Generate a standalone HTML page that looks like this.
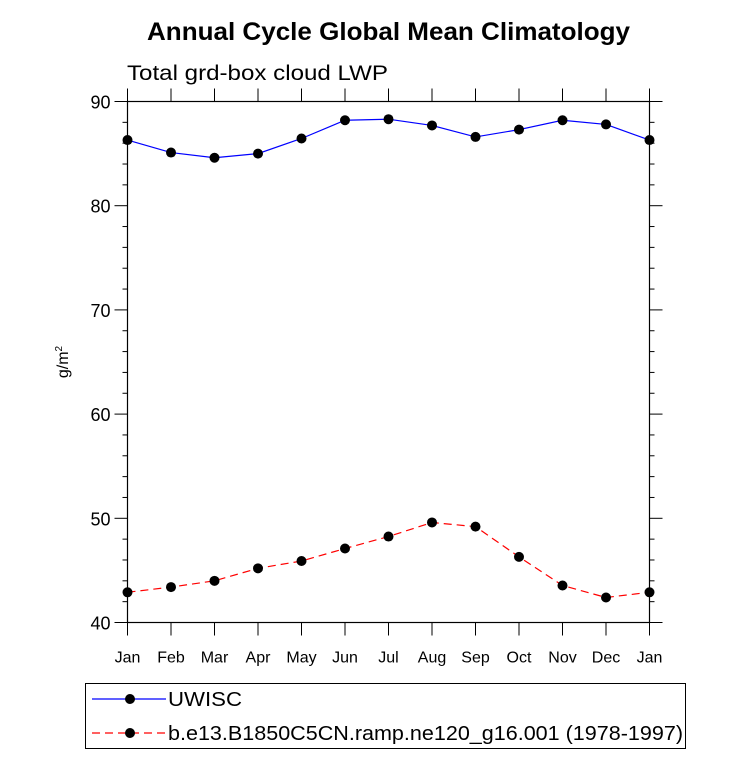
<!DOCTYPE html>
<html><head><meta charset="utf-8"><style>
body{margin:0;background:#fff;}
svg text{font-family:"Liberation Sans",sans-serif;}
</style></head><body>
<svg id="chart" width="733" height="757" xmlns="http://www.w3.org/2000/svg">
<text x="147" y="40" font-size="25" font-weight="bold" textLength="483" lengthAdjust="spacingAndGlyphs">Annual Cycle Global Mean Climatology</text>
<text x="127" y="80" font-size="21" textLength="261" lengthAdjust="spacingAndGlyphs">Total grd-box cloud LWP</text>
<text transform="translate(68,362) rotate(-90)" text-anchor="middle" font-size="16">g/m<tspan dy="-6" font-size="10">2</tspan></text>
<g id="axes"></g>
<g id="series"></g>
<g>
<rect x="85.5" y="683.5" width="600" height="65" fill="none" stroke="#000" stroke-width="1"/>
<g>
<line x1="92" y1="699" x2="166" y2="699" stroke="#00f" stroke-width="1.2"/>
<circle cx="130" cy="699" r="5" fill="#000"/>
<text x="168" y="706" font-size="20" textLength="74" lengthAdjust="spacingAndGlyphs">UWISC</text>
</g>
<g>
<line x1="92" y1="733" x2="166" y2="733" stroke="#f00" stroke-width="1.2" stroke-dasharray="8,5"/>
<circle cx="130" cy="733" r="5" fill="#000"/>
<text x="168" y="740" font-size="20" textLength="515" lengthAdjust="spacingAndGlyphs">b.e13.B1850C5CN.ramp.ne120_g16.001 (1978-1997)</text>
</g>
</g>
</svg>
<script>
const months = ["Jan","Feb","Mar","Apr","May","Jun","Jul","Aug","Sep","Oct","Nov","Dec","Jan"];
const uwisc = [86.3,85.1,84.6,85.0,86.45,88.2,88.3,87.7,86.6,87.3,88.2,87.8,86.3];
const model = [42.9,43.4,44.0,45.2,45.9,47.1,48.25,49.6,49.2,46.3,43.55,42.4,42.9];
const yTicks = [40,50,60,70,80,90];
const NS="http://www.w3.org/2000/svg";
const L=127.5,R=649.5,T=101.5,B=622.5,ymin=40,ymax=90;
const xs=i=>L+(R-L)*i/(months.length-1);
const ys=v=>B-(B-T)*(v-ymin)/(ymax-ymin);
function mk(tag,attrs,parent){const e=document.createElementNS(NS,tag);for(const k in attrs)e.setAttribute(k,attrs[k]);parent.appendChild(e);return e;}
const ax=document.getElementById('axes');
const frame=mk('rect',{x:L,y:T,width:R-L,height:B-T,fill:'none',stroke:'#000','stroke-width':1.2},ax);


for(let v=ymin;v<=ymax;v+=2){
  const y=ys(v);const major=(v%10===0);const len=major?13:5;
  mk('line',{x1:L-len,y1:y,x2:L,y2:y,stroke:'#000','stroke-width':1},ax);
  mk('line',{x1:R,y1:y,x2:R+len,y2:y,stroke:'#000','stroke-width':1},ax);
}
yTicks.forEach(v=>{
  const t=mk('text',{x:L-17,y:ys(v)+7,'text-anchor':'end','font-size':18},ax);
  t.textContent=v;
  
  
});
months.forEach((m,i)=>{
  const x=xs(i);
  mk('line',{x1:x,y1:B,x2:x,y2:B+13,stroke:'#000','stroke-width':1},ax);
  mk('line',{x1:x,y1:T-13,x2:x,y2:T,stroke:'#000','stroke-width':1},ax);
  const t=mk('text',{x:x,y:B+40,'text-anchor':'middle','font-size':16},ax);
  t.textContent=m;
  
  
});
const sg=document.getElementById('series');
function series(vals,color,dash,name){
  const g=mk('g',{},sg);
  
  
  const p=mk('polyline',{points:vals.map((v,i)=>xs(i)+','+ys(v)).join(' '),fill:'none',stroke:color,'stroke-width':1.2},g);
  if(dash)p.setAttribute('stroke-dasharray',dash);
  vals.forEach((v,i)=>{
    const c=mk('circle',{cx:xs(i),cy:ys(v),r:5,fill:'#000'},g);
    
    
  });
}
series(uwisc,'#00f',null,'uwisc-series');
series(model,'#f00','8,5','model-series');
</script>
</body></html>
